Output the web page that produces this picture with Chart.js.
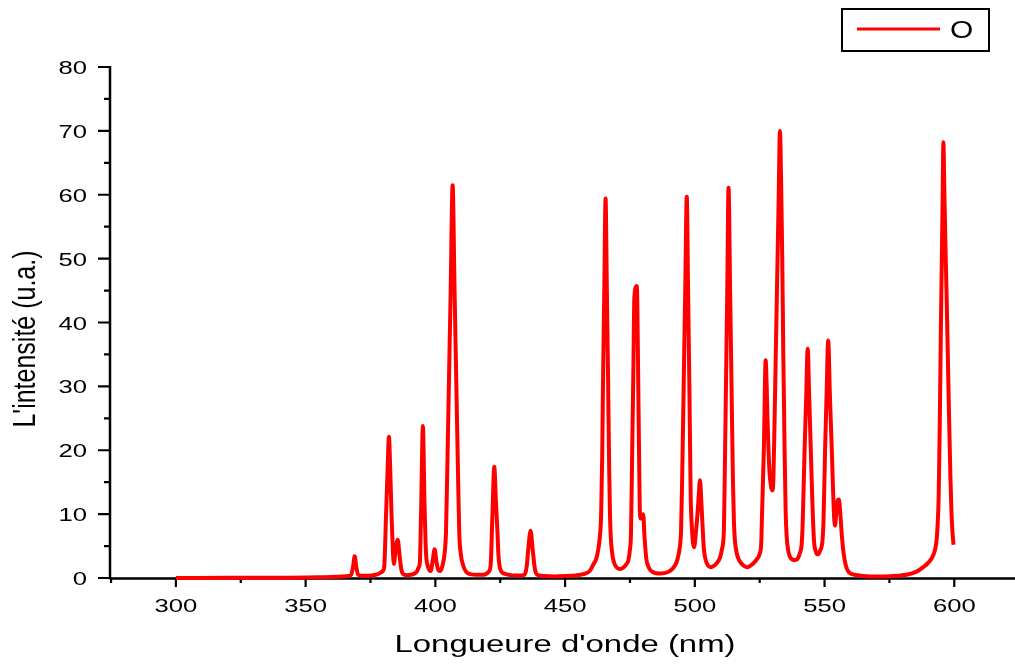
<!DOCTYPE html>
<html>
<head>
<meta charset="utf-8">
<script src="https://cdn.jsdelivr.net/npm/chart.js@4.4.1/dist/chart.umd.min.js"></script>
<style>
  html, body { margin: 0; padding: 0; background: #ffffff; }
  #c { display: block; }
</style>
</head>
<body>
<canvas id="c" width="1015" height="667"></canvas>
<script>
// ---- data ----
const seriesLabel = 'O';
const xTitle = "Longueure d'onde (nm)";
const yTitle = "L'intensité (u.a.)";

const xTickValues = [300, 350, 400, 450, 500, 550, 600];
const xMinorTickValues = [275, 325, 375, 425, 475, 525, 575];
const yTickValues = [0, 10, 20, 30, 40, 50, 60, 70, 80];
const yMinorTickValues = [5, 15, 25, 35, 45, 55, 65, 75];

const wavelength = [
  300, 320, 340, 355, 362, 366.5, 367.6, 368.3, 368.9, 369.5,
  370.2, 371.5, 374, 377, 378.8, 379.7, 380.3, 381.0, 381.6, 382.1,
  382.6, 383.1, 383.6, 384.0, 384.7, 385.5, 386.2, 386.9, 387.6, 389,
  390.5, 392, 393.0, 393.6, 394.0, 394.5, 395.2, 395.8, 396.4, 397.0,
  397.6, 398.2, 399.0, 399.7, 400.4, 401.0, 401.8, 402.5, 403.2, 403.7,
  404.1, 404.6, 405.2, 405.9, 406.65, 407.4, 408.1, 408.7, 409.2, 409.8,
  410.6, 411.8, 413.5, 416, 418.5, 419.8, 420.6, 421.3, 422.0, 422.7,
  423.3, 424.0, 424.3, 424.7, 425.3, 426.5, 429, 432, 434.3, 435.2,
  435.8, 436.7, 437.5, 438.4, 439.3, 442, 446, 450, 454, 457,
  459.5, 461.0, 462.0, 462.8, 463.4, 463.9, 464.3, 464.6, 465.1, 465.6,
  466.1, 466.6, 467.0, 467.3, 467.6, 468.1, 468.8, 469.8, 470.9, 472.3,
  473.5, 474.4, 475.0, 475.4, 475.9, 476.3, 476.7, 477.6, 477.8, 478.2,
  478.5, 478.8, 479.2, 479.7, 480.1, 480.6, 481.3, 482.2, 483.5, 486.6,
  489.5, 491.5, 493.0, 493.8, 494.4, 494.7, 495.1, 495.7, 496.3, 496.9,
  497.4, 497.9, 498.4, 498.6, 499.0, 499.3, 499.7, 500.5, 501.2, 501.6,
  502.0, 502.5, 503.0, 503.5, 504.2, 505.0, 506.1, 507.3, 508.6, 509.7,
  510.5, 511.2, 511.5, 512.0, 512.5, 513.0, 513.6, 514.15, 514.7, 515.1,
  515.5, 516.2, 517.2, 518.6, 520.2, 522.3, 524.0, 525.0, 525.6, 525.9,
  526.6, 527.3, 527.7, 528.0, 528.4, 528.8, 529.3, 529.7, 530.0, 530.3,
  530.8, 531.2, 531.7, 532.3, 532.8, 533.3, 533.7, 534.1, 534.6, 535.0,
  535.4, 535.9, 536.7, 537.6, 538.6, 539.6, 540.5, 541.2, 541.6, 542.3,
  542.9, 543.5, 544.1, 544.7, 545.3, 545.9, 546.6, 547.4, 548.3, 549.2,
  549.6, 550.2, 550.8, 551.4, 552.1, 552.8, 553.3, 553.7, 554.0, 554.5,
  555.0, 555.5, 556.0, 556.6, 557.3, 558.3, 559.4, 561, 564, 568,
  573, 578, 582, 585.5, 588, 590, 591.6, 592.5, 593.2, 593.6,
  594.0, 594.4, 594.8, 595.2, 595.5, 595.8, 596.2, 596.6, 597.0, 597.5,
  598.0, 598.5, 598.9, 599.3, 599.7
];

const intensity = [
  0, 0.02, 0.05, 0.1, 0.18, 0.3, 0.55, 1.8, 3.4, 1.8,
  0.55, 0.35, 0.35, 0.5, 0.8, 1.1, 1.8, 10, 17, 22.1,
  17, 10, 4.5, 2.2, 4.5, 6.0, 3.5, 1.3, 0.6, 0.45,
  0.5, 0.7, 1.1, 1.7, 2.3, 10.5, 23.8, 12, 3.9, 2.0,
  1.3, 1.1, 2.8, 4.5, 2.6, 1.4, 1.1, 1.6, 2.8, 4.4,
  7.2, 17, 30, 45, 61.5, 45, 30, 17, 7.2, 3.8,
  2.1, 1.0, 0.6, 0.5, 0.5, 0.7, 1.0, 2.0, 10, 17.4,
  12.4, 6.6, 3.7, 2.0, 1.1, 0.7, 0.45, 0.4, 0.5, 1.8,
  4.5, 7.4, 4.5, 1.3, 0.5, 0.3, 0.25, 0.3, 0.4, 0.6,
  1.1, 2.2, 3.0, 4.5, 6.5, 10, 19, 30, 45, 59.4,
  45, 30, 17, 10, 6.5, 4.0, 2.5, 1.7, 1.4, 1.6,
  2.1, 2.8, 4.5, 7.0, 21, 32, 44.0, 45.7, 44, 30,
  20, 10.5, 9.3, 9.6, 10.0, 6.5, 3.0, 1.7, 1.0, 0.7,
  0.9, 1.5, 2.5, 3.8, 5.5, 7.5, 15, 30, 45, 59.7,
  45, 30, 13, 10, 7, 5.5, 4.8, 7.5, 11, 13.5,
  15.3, 12, 8, 4.5, 2.8, 2.0, 1.7, 1.9, 2.4, 3.2,
  4.6, 7.5, 15, 30, 45, 61.1, 45, 30, 15, 8.5,
  5.7, 3.8, 2.7, 2.0, 1.7, 2.2, 3.0, 3.8, 5.5, 10,
  20, 34.1, 30, 25, 20, 16.5, 14.5, 13.8, 13.7, 15.9,
  26, 35, 46, 59, 70.0, 61, 50, 35, 20, 10.6,
  6.5, 4.5, 3.3, 2.9, 2.8, 3.0, 3.9, 5.4, 9, 20,
  28, 35.9, 28, 20, 12, 6.0, 4.2, 3.7, 4.3, 5.9,
  9, 20, 29, 37.2, 28, 20, 13.5, 9.5, 8.2, 10,
  12, 12.3, 10.5, 7, 4, 1.8, 0.9, 0.55, 0.35, 0.25,
  0.25, 0.35, 0.55, 1.0, 1.7, 2.4, 3.3, 4.3, 6.0, 8.5,
  13, 24, 38, 50, 59, 68.2, 60, 52, 45, 35,
  25, 16, 10.5, 7.2, 5.2
];

// ---- helpers ----
function stretchedText(ctx, text, x, y, align, sx, font) {
  ctx.save();
  ctx.font = font;
  ctx.translate(x, y);
  ctx.scale(sx, 1);
  ctx.textAlign = align;
  ctx.textBaseline = 'alphabetic';
  ctx.fillText(text, 0, 0);
  ctx.restore();
}

const originAxesPlugin = {
  id: 'originAxes',
  beforeDatasetsDraw(chart) {
    const ctx = chart.ctx;
    const xs = chart.scales.x, ys = chart.scales.y;
    const area = chart.chartArea;
    ctx.save();
    ctx.strokeStyle = '#000';
    ctx.fillStyle = '#000';
    ctx.lineCap = 'butt';
    // axis lines
    ctx.lineWidth = 2.5;
    ctx.beginPath();
    ctx.moveTo(area.left, area.top - 1);
    ctx.lineTo(area.left, area.bottom + 1.2);
    ctx.moveTo(area.left, area.bottom + 0.5);
    ctx.lineTo(area.right, area.bottom + 0.5);
    ctx.stroke();
    // x ticks
    ctx.lineWidth = 2.2;
    ctx.beginPath();
    xs.ticks.forEach(t => {
      const px = xs.getPixelForValue(t.value);
      ctx.moveTo(px, area.bottom);
      ctx.lineTo(px, area.bottom + 9);
    });
    xMinorTickValues.forEach(v => {
      const px = xs.getPixelForValue(v);
      ctx.moveTo(px, area.bottom);
      ctx.lineTo(px, area.bottom + 5);
    });
    // y ticks
    ys.ticks.forEach(t => {
      const py = ys.getPixelForValue(t.value);
      ctx.moveTo(area.left, py);
      ctx.lineTo(area.left - 12, py);
    });
    yMinorTickValues.forEach(v => {
      const py = ys.getPixelForValue(v);
      ctx.moveTo(area.left, py);
      ctx.lineTo(area.left - 6, py);
    });
    ctx.stroke();

    // tick labels
    const tickFont = '19px "Liberation Sans", Arial, sans-serif';
    xs.ticks.forEach(t => {
      const px = xs.getPixelForValue(t.value);
      stretchedText(ctx, String(t.value), px, area.bottom + 34, 'center', 1.35, tickFont);
    });
    ys.ticks.forEach(t => {
      const py = ys.getPixelForValue(t.value);
      stretchedText(ctx, String(t.value), area.left - 23, py + 7, 'right', 1.35, tickFont);
    });

    // axis titles
    stretchedText(ctx, xTitle, 565, 652, 'center', 1.4, '23.5px "Liberation Sans", Arial, sans-serif');
    ctx.save();
    ctx.font = '25px "Liberation Sans", Arial, sans-serif';
    ctx.translate(35, 339);
    ctx.rotate(-Math.PI / 2);
    ctx.scale(1, 1.28);
    ctx.textAlign = 'center';
    ctx.textBaseline = 'alphabetic';
    ctx.fillText(yTitle, 0, 0);
    ctx.restore();

    // legend box
    const ds = chart.data.datasets[0];
    ctx.lineWidth = 2;
    ctx.strokeStyle = '#000';
    ctx.strokeRect(842, 9, 147, 42);
    ctx.strokeStyle = ds.borderColor;
    ctx.lineWidth = 3;
    ctx.beginPath();
    ctx.moveTo(857, 29);
    ctx.lineTo(940, 29);
    ctx.stroke();
    stretchedText(ctx, ds.label, 950, 37.5, 'left', 1.3, '23px "Liberation Sans", Arial, sans-serif');
    ctx.restore();
  }
};

const points = wavelength.map((w, i) => ({ x: w, y: intensity[i] }));

new Chart(document.getElementById('c'), {
  type: 'line',
  data: {
    datasets: [{
      label: seriesLabel,
      data: points,
      borderColor: '#ff0000',
      backgroundColor: '#ff0000',
      borderWidth: 4,
      borderJoinStyle: 'round',
      pointRadius: 0,
      fill: false,
      cubicInterpolationMode: 'monotone',
      clip: false
    }]
  },
  options: {
    responsive: false,
    devicePixelRatio: 1,
    animation: false,
    events: [],
    layout: { padding: { top: 67, right: 0, left: 0, bottom: 0 } },
    plugins: {
      legend: { display: false },
      tooltip: { enabled: false },
      title: { display: false }
    },
    scales: {
      x: {
        type: 'linear',
        min: 274.6,
        max: 623.4,
        grid: { display: false },
        border: { display: false },
        ticks: { display: false },
        afterBuildTicks(scale) { scale.ticks = xTickValues.map(v => ({ value: v })); },
        afterFit(scale) { scale.height = 89; }
      },
      y: {
        type: 'linear',
        min: 0,
        max: 80,
        grid: { display: false },
        border: { display: false },
        ticks: { display: false },
        afterBuildTicks(scale) { scale.ticks = yTickValues.map(v => ({ value: v })); },
        afterFit(scale) { scale.width = 110; }
      }
    }
  },
  plugins: [originAxesPlugin]
});
</script>
</body>
</html>
